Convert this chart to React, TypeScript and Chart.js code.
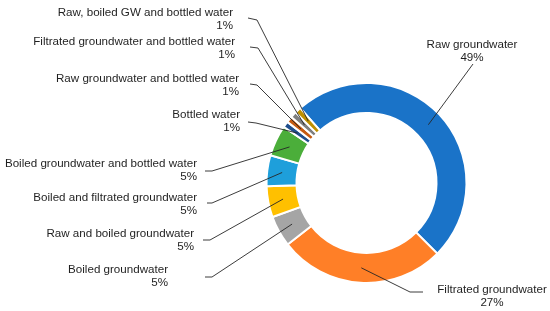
import React, { useEffect, useRef } from "react";
import { Chart, registerables } from "chart.js";

Chart.register(...registerables);

const categories = [
  "Raw groundwater",
  "Filtrated groundwater",
  "Boiled groundwater",
  "Raw and boiled groundwater",
  "Boiled and filtrated groundwater",
  "Boiled groundwater and bottled water",
  "Bottled water",
  "Raw groundwater and bottled water",
  "Filtrated groundwater and bottled water",
  "Raw, boiled GW and bottled water",
];
const values = [49, 27, 5, 5, 5, 5, 1, 1, 1, 1];
const percentLabels = ["49%", "27%", "5%", "5%", "5%", "5%", "1%", "1%", "1%", "1%"];
const colors = [
  "#1A73C8",
  "#FF7F27",
  "#A5A5A5",
  "#FFC000",
  "#1E9FDB",
  "#4BAE3A",
  "#1F4E8C",
  "#C55A11",
  "#7F7F7F",
  "#BF9000",
];

// Label layout (pixel positions of text and leader-line elbows), layout only.
type LabelLayout = {
  tx: number; // text anchor x
  ty: number; // first line center y
  align: CanvasTextAlign;
  pts: [number, number][]; // leader points from label side toward arc
};
const labelLayout: LabelLayout[] = [
  { tx: 472, ty: 45, align: "center", pts: [[473, 64]] },
  { tx: 492, ty: 290, align: "center", pts: [[423, 292], [410, 292]] },
  { tx: 168, ty: 270, align: "right", pts: [[205, 277], [212, 277]] },
  { tx: 194, ty: 234, align: "right", pts: [[203, 240], [210, 240]] },
  { tx: 197, ty: 198, align: "right", pts: [[207, 203], [212, 203]] },
  { tx: 197, ty: 164, align: "right", pts: [[205, 171], [212, 171]] },
  { tx: 240, ty: 115, align: "right", pts: [[248, 122], [256, 123]] },
  { tx: 239, ty: 79, align: "right", pts: [[250, 84], [257, 85]] },
  { tx: 235, ty: 42, align: "right", pts: [[250, 47], [258, 48]] },
  { tx: 233, ty: 13, align: "right", pts: [[248, 18], [257, 20]] },
];

const FONT = '11.6px "Liberation Sans", Arial, sans-serif';
const LINE_H = 12.8;

const labelsPlugin = {
  id: "leaderLabels",
  afterDraw(chart: any) {
    const ctx = chart.ctx as CanvasRenderingContext2D;
    const meta = chart.getDatasetMeta(0);
    ctx.save();
    ctx.strokeStyle = "#262626";
    ctx.lineWidth = 0.9;
    meta.data.forEach((arc: any, i: number) => {
      const lay = labelLayout[i];
      if (!lay) return;
      const c = arc.getCenterPoint(true);
      ctx.beginPath();
      ctx.moveTo(lay.pts[0][0], lay.pts[0][1]);
      for (let k = 1; k < lay.pts.length; k++) ctx.lineTo(lay.pts[k][0], lay.pts[k][1]);
      ctx.lineTo(c.x, c.y);
      ctx.stroke();
    });
    ctx.font = FONT;
    ctx.fillStyle = "#1F1F1F";
    ctx.textBaseline = "middle";
    categories.forEach((name, i) => {
      const lay = labelLayout[i];
      ctx.textAlign = lay.align;
      ctx.fillText(name, lay.tx, lay.ty);
      ctx.fillText(percentLabels[i], lay.tx, lay.ty + LINE_H);
    });
    ctx.restore();
  },
};

export default function App() {
  const ref = useRef<HTMLCanvasElement | null>(null);
  useEffect(() => {
    if (!ref.current) return;
    const chart = new Chart(ref.current, {
      type: "doughnut",
      data: {
        labels: categories,
        datasets: [
          {
            data: values,
            backgroundColor: colors,
            borderColor: "#FFFFFF",
            borderWidth: 2,
          },
        ],
      },
      options: {
        responsive: false,
        animation: false,
        rotation: -41.5,
        cutout: "70%",
        layout: { padding: { left: 265.5, right: 82.5, top: 82, bottom: 27 } },
        plugins: {
          legend: { display: false },
          tooltip: { enabled: false },
        },
      },
      plugins: [labelsPlugin],
    });
    return () => chart.destroy();
  }, []);
  return (
    <div style={{ position: "absolute", left: 0, top: 0, width: 550, height: 311, background: "#fff" }}>
      <canvas ref={ref} width={550} height={311} />
    </div>
  );
}
